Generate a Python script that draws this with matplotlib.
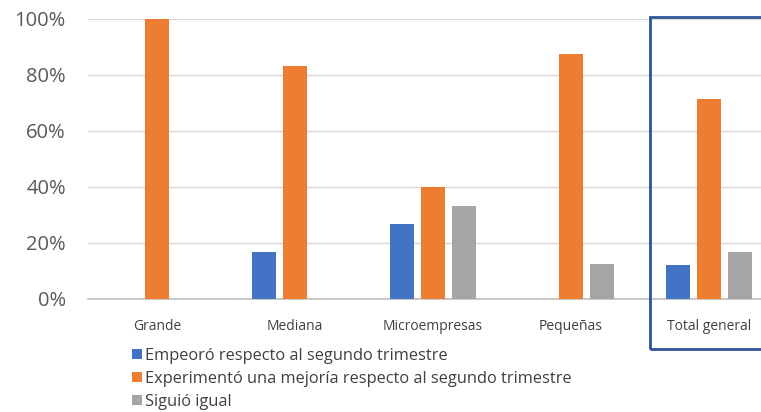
import numpy as np
import matplotlib
matplotlib.use("Agg")
from matplotlib import pyplot as plt
from matplotlib.patches import Rectangle

categories = ["Grande", "Mediana", "Microempresas", "Pequeñas", "Total general"]
series_names = ["Empeoró respecto al segundo trimestre",
                "Experimentó una mejoría respecto al segundo trimestre",
                "Siguió igual"]
empeoro = [0, 16.7, 26.7, 0, 12.0]
mejoria = [100, 83.3, 40.0, 87.5, 71.4]
igual = [0, 0, 33.3, 12.5, 16.7]
colors = ["#4472C4", "#ED7D31", "#A5A5A5"]
yticks = [0, 20, 40, 60, 80, 100]

plt.rcParams['font.family'] = ['Open Sans', 'DejaVu Sans']

W, H = 761, 412
fig = plt.figure(figsize=(W/100, H/100), dpi=100)
# axes extends past the right edge of the picture (clipped like the original)
left, right = 88, 778
bottom, top = 299, 19
ax = fig.add_axes([left/W, 1-bottom/H, (right-left)/W, (bottom-top)/H])

x = np.arange(len(categories))
step = 0.222
width = 0.174
for i, vals in enumerate([empeoro, mejoria, igual]):
    ax.bar(x + (i-1)*step, vals, width, color=colors[i], label=series_names[i], zorder=3)

ax.set_xlim(-0.5, len(categories)-0.5)
ax.set_ylim(0, 100)
ax.set_yticks(yticks)
ax.set_yticklabels([f"{v}%" for v in yticks], fontsize=14.5, color="#595959")
ax.set_xticks(x)
ax.set_xticklabels(categories, fontsize=10, color="#404040")
ax.tick_params(axis='both', length=0)
ax.tick_params(axis='y', pad=16)
ax.tick_params(axis='x', pad=14.5)
ax.yaxis.grid(True, color="#D9D9D9", linewidth=1, zorder=0)
for s in ["top", "right", "left"]:
    ax.spines[s].set_visible(False)
ax.spines["bottom"].set_color("#BFBFBF")
ax.spines["bottom"].set_linewidth(1.2)

# highlight box round "Total general"
box = Rectangle((650/W, 1-349/H), 120/W, (349-17)/H, transform=fig.transFigure,
                fill=False, edgecolor="#2F5597", linewidth=2, clip_on=False)
fig.patches.append(box)

leg = fig.legend(loc="upper left", bbox_to_anchor=(132/W, 1-348/H), frameon=False,
                 fontsize=11.8, handlelength=0.6, handleheight=0.6, handletextpad=0.2,
                 labelspacing=0.42, borderpad=0, borderaxespad=0)
for t in leg.get_texts():
    t.set_color("#404040")

fig.savefig("out.png", dpi=100)
